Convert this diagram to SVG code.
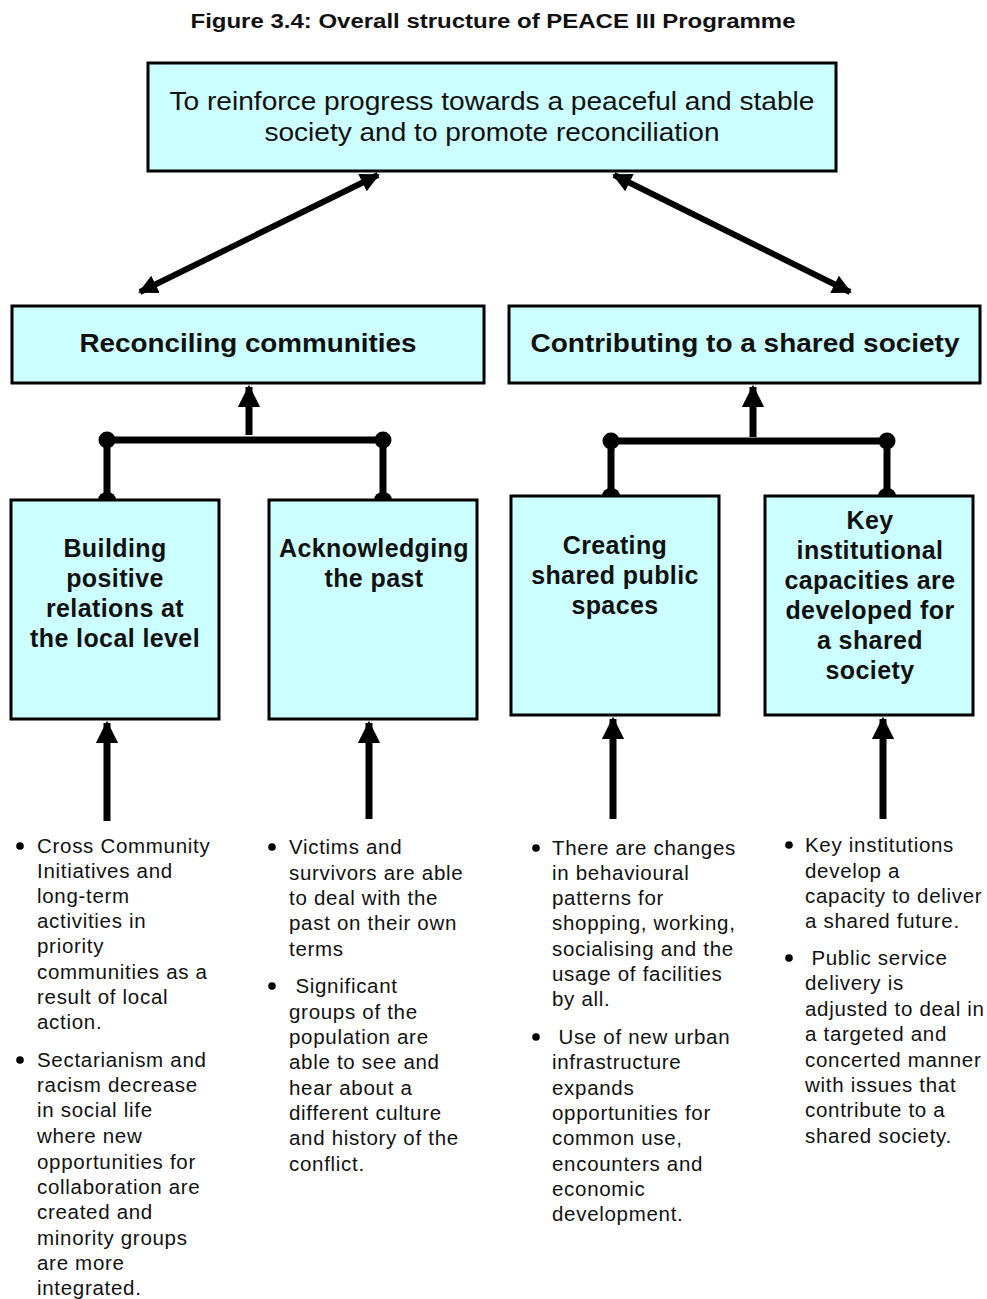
<svg xmlns="http://www.w3.org/2000/svg" width="987" height="1299" viewBox="0 0 987 1299">
<defs>
<marker id="ah" viewBox="0 0 10 10" refX="9" refY="5" markerWidth="3.2" markerHeight="3.2" orient="auto-start-reverse" markerUnits="strokeWidth">
<path d="M0,0 L10,5 L0,10 z" fill="#000"/>
</marker>
<style>
.box{fill:#ccffff;stroke:#000;stroke-width:3}
.t{font-family:"Liberation Sans",Arial,sans-serif;fill:#111}
.big{font-size:26px}
.bold{font-weight:bold}
.mid{font-size:25px;font-weight:bold;letter-spacing:0.4px}
.b{font-family:"Liberation Sans",Arial,sans-serif;font-size:20.5px;letter-spacing:0.7px;fill:#111}
.ln{stroke:#000;stroke-width:7;fill:none}
.dg{stroke:#000;stroke-width:6;fill:none}
.dot{fill:#000}
</style>
</defs>
<rect width="987" height="1299" fill="#fff"/>
<text class="t bold" x="493" y="28" font-size="20" text-anchor="middle" textLength="605" lengthAdjust="spacingAndGlyphs">Figure 3.4: Overall structure of PEACE III Programme</text>

<g id="node-goal">
<rect class="box" x="148" y="63" width="688" height="108"/>
<text class="t big" x="492" y="110" text-anchor="middle" textLength="645" lengthAdjust="spacingAndGlyphs">To reinforce progress towards a peaceful and stable</text>
<text class="t big" x="492" y="141" text-anchor="middle" textLength="455" lengthAdjust="spacingAndGlyphs">society and to promote reconciliation</text>
</g>
<g id="node-reconciling">
<rect class="box" x="12" y="306" width="472" height="77"/>
<text class="t big bold" x="248" y="352" text-anchor="middle" textLength="337" lengthAdjust="spacingAndGlyphs">Reconciling communities</text>
</g>
<g id="node-shared">
<rect class="box" x="509" y="306" width="471" height="77"/>
<text class="t big bold" x="745" y="352" text-anchor="middle" textLength="429" lengthAdjust="spacingAndGlyphs">Contributing to a shared society</text>
</g>
<g id="node-building">
<rect class="box" x="11" y="500" width="208" height="219"/>
<text class="t mid" text-anchor="middle"><tspan x="115" y="557">Building</tspan><tspan x="115" y="587">positive</tspan><tspan x="115" y="617">relations at</tspan><tspan x="115" y="647">the local level</tspan></text>
</g>
<g id="node-acknowledging">
<rect class="box" x="269" y="500" width="208" height="219"/>
<text class="t mid" text-anchor="middle"><tspan x="374" y="557">Acknowledging</tspan><tspan x="374" y="587">the past</tspan></text>
</g>
<g id="node-creating">
<rect class="box" x="511" y="496" width="208" height="219"/>
<text class="t mid" text-anchor="middle"><tspan x="615" y="554">Creating</tspan><tspan x="615" y="584">shared public</tspan><tspan x="615" y="614">spaces</tspan></text>
</g>
<g id="node-key">
<rect class="box" x="765" y="496" width="208" height="219"/>
<text class="t mid" text-anchor="middle"><tspan x="870" y="529">Key</tspan><tspan x="870" y="559">institutional</tspan><tspan x="870" y="589">capacities are</tspan><tspan x="870" y="619">developed for</tspan><tspan x="870" y="649">a shared</tspan><tspan x="870" y="679">society</tspan></text>
</g>

<g id="connectors">
<line class="dg" x1="378" y1="175" x2="140" y2="292" marker-start="url(#ah)" marker-end="url(#ah)"/>
<line class="dg" x1="614" y1="175" x2="850" y2="292" marker-start="url(#ah)" marker-end="url(#ah)"/>
<line class="ln" x1="249" y1="435" x2="249" y2="387" marker-end="url(#ah)"/>
<line class="ln" x1="107" y1="440" x2="383" y2="440"/>
<line class="ln" x1="107" y1="440" x2="107" y2="497"/>
<line class="ln" x1="383" y1="440" x2="383" y2="497"/>
<circle class="dot" cx="107" cy="440" r="8.5"/>
<circle class="dot" cx="383" cy="440" r="8.5"/>
<path class="dot" d="M98,500 a9,8 0 0 1 18,0 z"/>
<path class="dot" d="M374,500 a9,8 0 0 1 18,0 z"/>
<line class="ln" x1="753" y1="437" x2="753" y2="387" marker-end="url(#ah)"/>
<line class="ln" x1="611" y1="441" x2="887" y2="441"/>
<line class="ln" x1="611" y1="441" x2="611" y2="494"/>
<line class="ln" x1="887" y1="441" x2="887" y2="494"/>
<circle class="dot" cx="611" cy="441" r="8.5"/>
<circle class="dot" cx="887" cy="441" r="8.5"/>
<path class="dot" d="M602,496 a9,8 0 0 1 18,0 z"/>
<path class="dot" d="M878,496 a9,8 0 0 1 18,0 z"/>
<line class="ln" x1="107" y1="821" x2="107" y2="723" marker-end="url(#ah)"/>
<line class="ln" x1="369" y1="819" x2="369" y2="723" marker-end="url(#ah)"/>
<line class="ln" x1="613" y1="819" x2="613" y2="719" marker-end="url(#ah)"/>
<line class="ln" x1="883" y1="819" x2="883" y2="719" marker-end="url(#ah)"/>
</g>

<g id="bullets-1">
<circle class="dot" cx="20" cy="846" r="3.8"/>
<circle class="dot" cx="20" cy="1060" r="3.8"/>
<text class="b"><tspan x="37" y="853">Cross Community</tspan><tspan x="37" y="878">Initiatives and</tspan><tspan x="37" y="903">long-term</tspan><tspan x="37" y="928">activities in</tspan><tspan x="37" y="953">priority</tspan><tspan x="37" y="979">communities as a</tspan><tspan x="37" y="1004">result of local</tspan><tspan x="37" y="1029">action.</tspan><tspan x="37" y="1067">Sectarianism and</tspan><tspan x="37" y="1092">racism decrease</tspan><tspan x="37" y="1117">in social life</tspan><tspan x="37" y="1143">where new</tspan><tspan x="37" y="1169">opportunities for</tspan><tspan x="37" y="1194">collaboration are</tspan><tspan x="37" y="1219">created and</tspan><tspan x="37" y="1245">minority groups</tspan><tspan x="37" y="1270">are more</tspan><tspan x="37" y="1295">integrated.</tspan></text>
</g>
<g id="bullets-2">
<circle class="dot" cx="272" cy="847" r="3.8"/>
<circle class="dot" cx="272" cy="986" r="3.8"/>
<text class="b"><tspan x="289" y="854">Victims and</tspan><tspan x="289" y="880">survivors are able</tspan><tspan x="289" y="905">to deal with the</tspan><tspan x="289" y="930">past on their own</tspan><tspan x="289" y="956">terms</tspan><tspan x="289" y="993"> Significant</tspan><tspan x="289" y="1019">groups of the</tspan><tspan x="289" y="1044">population are</tspan><tspan x="289" y="1069">able to see and</tspan><tspan x="289" y="1095">hear about a</tspan><tspan x="289" y="1120">different culture</tspan><tspan x="289" y="1145">and history of the</tspan><tspan x="289" y="1171">conflict.</tspan></text>
</g>
<g id="bullets-3">
<circle class="dot" cx="536" cy="848" r="3.8"/>
<circle class="dot" cx="536" cy="1037" r="3.8"/>
<text class="b"><tspan x="552" y="855">There are changes</tspan><tspan x="552" y="880">in behavioural</tspan><tspan x="552" y="905">patterns for</tspan><tspan x="552" y="930">shopping, working,</tspan><tspan x="552" y="956">socialising and the</tspan><tspan x="552" y="981">usage of facilities</tspan><tspan x="552" y="1006">by all.</tspan><tspan x="552" y="1044"> Use of new urban</tspan><tspan x="552" y="1069">infrastructure</tspan><tspan x="552" y="1095">expands</tspan><tspan x="552" y="1120">opportunities for</tspan><tspan x="552" y="1145">common use,</tspan><tspan x="552" y="1171">encounters and</tspan><tspan x="552" y="1196">economic</tspan><tspan x="552" y="1221">development.</tspan></text>
</g>
<g id="bullets-4">
<circle class="dot" cx="789" cy="845" r="3.8"/>
<circle class="dot" cx="789" cy="958" r="3.8"/>
<text class="b"><tspan x="805" y="852">Key institutions</tspan><tspan x="805" y="878">develop a</tspan><tspan x="805" y="903">capacity to deliver</tspan><tspan x="805" y="928">a shared future.</tspan><tspan x="805" y="965"> Public service</tspan><tspan x="805" y="990">delivery is</tspan><tspan x="805" y="1016">adjusted to deal in</tspan><tspan x="805" y="1041">a targeted and</tspan><tspan x="805" y="1067">concerted manner</tspan><tspan x="805" y="1092">with issues that</tspan><tspan x="805" y="1117">contribute to a</tspan><tspan x="805" y="1143">shared society.</tspan></text>
</g>
</svg>
